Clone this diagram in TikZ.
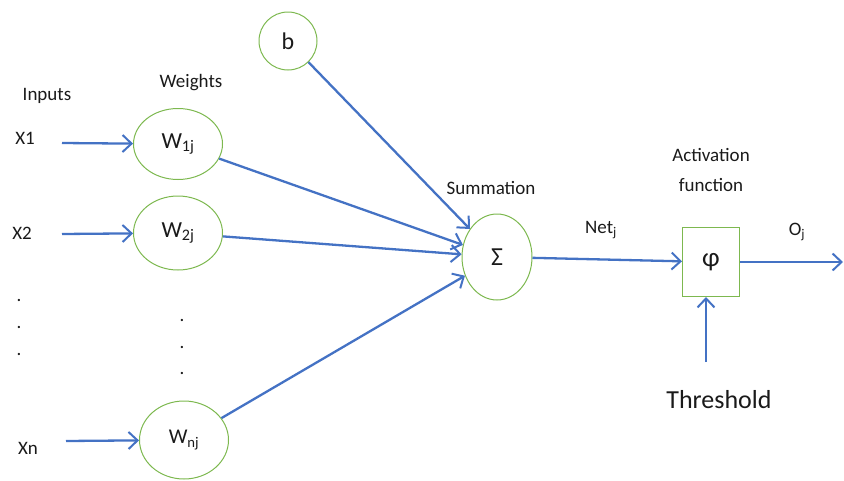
\documentclass[tikz,border=0pt]{standalone}
\usepackage{fontspec}
\setmainfont{Carlito}
\usetikzlibrary{arrows.meta,shapes.geometric}
\definecolor{lineblue}{HTML}{4472C4}
\definecolor{nodegreen}{HTML}{7DB84F}
\definecolor{txt}{HTML}{1A1A1A}
\tikzset{
  conn/.style={draw=lineblue, line width=2.3pt, -{Straight Barb[length=9pt,width=17pt,line width=2pt]}},
  wnode/.style={draw=nodegreen, line width=1pt, ellipse, minimum width=89pt, minimum height=71pt, inner sep=0pt, font=\fontsize{23}{25}\selectfont, text=txt},
  lbl/.style={font=\fontsize{19}{21}\selectfont, text=txt, inner sep=0pt},
  dotlbl/.style={font=\fontsize{19}{21}\selectfont, text=txt, inner sep=0pt},
}
\begin{document}
\begin{tikzpicture}[x=1pt,y=-1pt]
\useasboundingbox (0,0) rectangle (844,480);
% labels
\node[lbl] (inputs) at (47,96) {Inputs};
\node[lbl] (weights) at (191,83) {Weights};
\node[lbl] (x1) at (25,138) {X1};
\node[lbl] (x2) at (22,233) {X2};
\node[lbl] (xn) at (28,448) {Xn};
\node[dotlbl] (d1) at (19,300) {.};
\node[dotlbl] (d2) at (19,327) {.};
\node[dotlbl] (d3) at (19,354) {.};
\node[dotlbl] (e1) at (182,320) {.};
\node[dotlbl] (e2) at (182,347) {.};
\node[dotlbl] (e3) at (182,373) {.};
% coordinates for input arrows
\coordinate (x1s) at (62,143);
\coordinate (x2s) at (62,234);
\coordinate (xns) at (66,441);
% weight nodes
\node[wnode] (w1) at (178,144) {W\textsubscript{1j}};
\node[wnode, minimum height=74pt] (w2) at (178,233) {W\textsubscript{2j}};
\node[wnode, minimum height=78pt, font=\fontsize{21}{23}\selectfont] (wn) at (184,440) {W\textsubscript{nj}};
% bias
\node[draw=nodegreen, line width=1pt, circle, minimum size=58pt, inner sep=0pt, font=\fontsize{24}{26}\selectfont, text=txt] (b) at (288,41) {b};
% summation
\node[lbl] (sumlbl) at (491,188) {Summation};
\node[draw=nodegreen, line width=1pt, ellipse, minimum width=70pt, minimum height=86pt, inner sep=0pt, font=\fontsize{26}{28}\selectfont, text=txt] (sig) at (497,257) {Σ};
% activation
\node[lbl] (act1) at (711,155) {Activation};
\node[lbl] (act2) at (711,185) {function};
\node[draw=nodegreen, line width=1pt, rectangle, minimum width=57pt, minimum height=69pt, inner sep=0pt, font=\fontsize{27}{29}\selectfont, text=txt] (phi) at (711,262) {φ};
\node[lbl] (net) at (601,230) {Net\textsubscript{j}};
\node[lbl] (oj) at (797,232) {O\textsubscript{j}};
\node[font=\fontsize{26}{29}\selectfont, text=txt, inner sep=0pt] (thr) at (719,400) {Threshold};
\coordinate (thrs) at (706,362);
\coordinate (out) at (843,262);
% connectors
\draw[conn] (x1s) -- (w1);
\draw[conn] (x2s) -- (w2);
\draw[conn] (xns) -- (wn);
\draw[conn] (w1) -- (sig);
\draw[conn] (w2) -- (sig);
\draw[conn] (wn) -- (sig);
\draw[conn] (b) -- (sig);
\draw[conn] (sig) -- (phi);
\draw[conn] (phi) -- (out);
\draw[conn] (thrs) -- (thrs |- phi.south);
\end{tikzpicture}
\end{document}
